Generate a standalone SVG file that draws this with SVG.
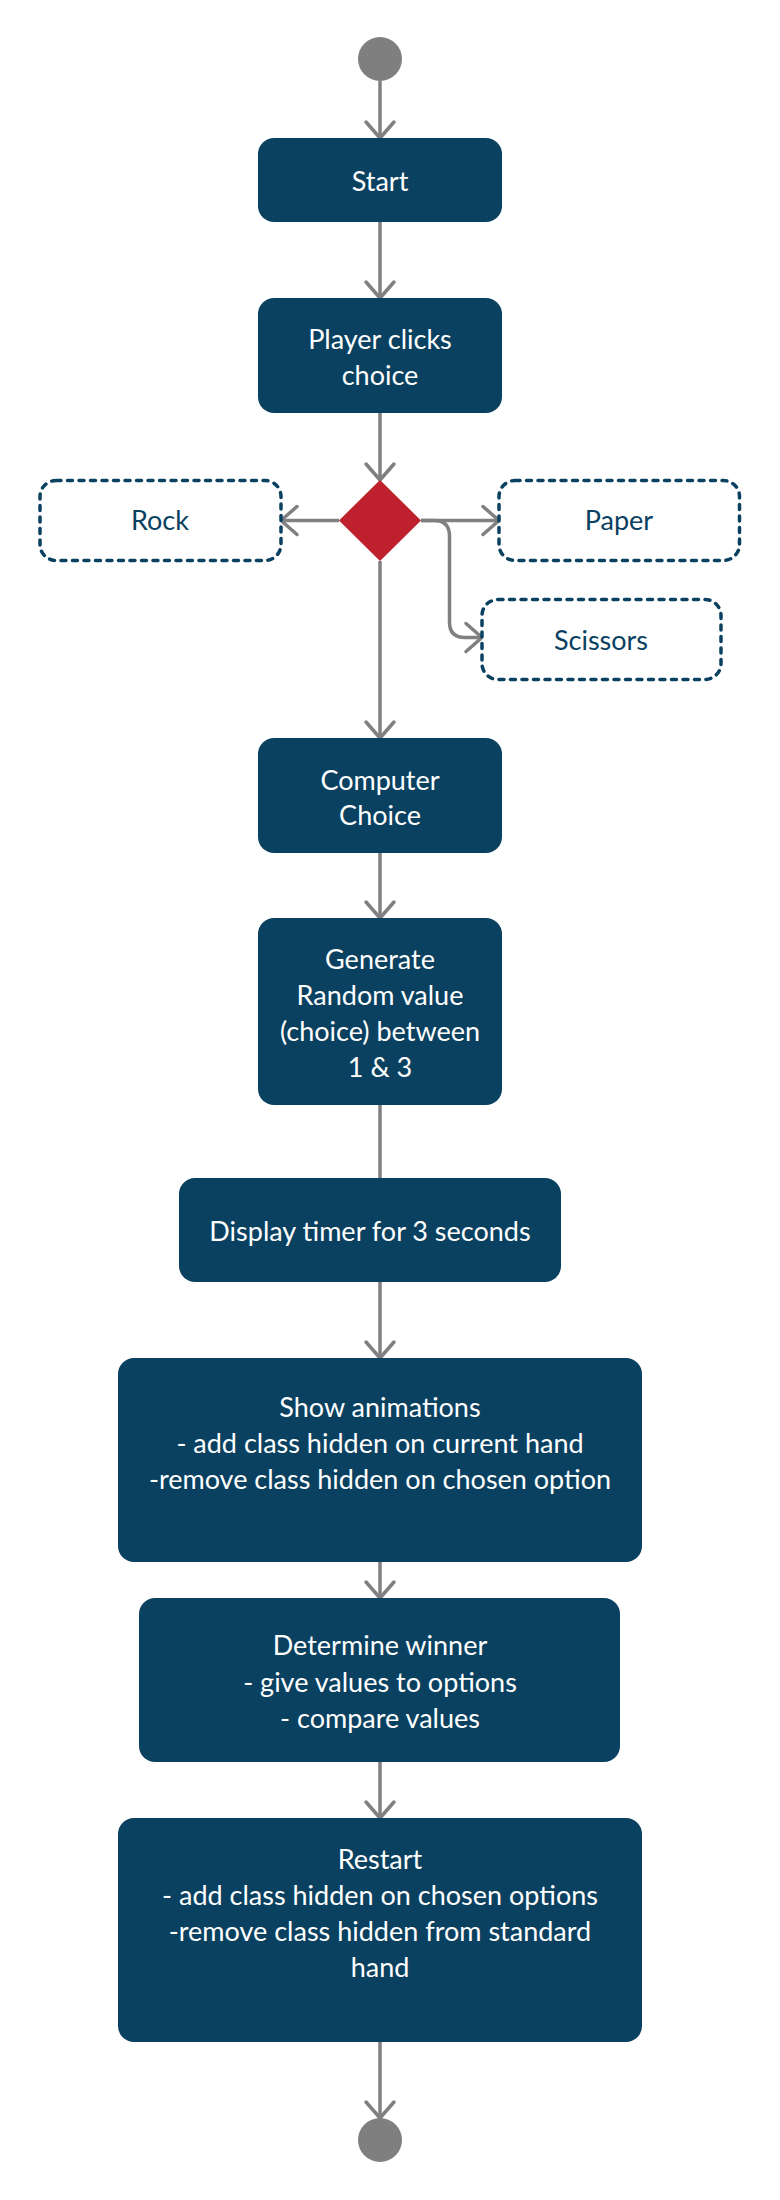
<svg xmlns="http://www.w3.org/2000/svg" width="780" height="2200" viewBox="0 0 780 2200">
<style>
.box{fill:#0a4160;}
.opt{fill:#ffffff;stroke:#0a4160;stroke-width:3.5;stroke-dasharray:5 6.5;stroke-linecap:round;}
.t{font-family:Lato,"Liberation Sans",sans-serif;font-size:27px;fill:#ffffff;text-anchor:middle;dominant-baseline:central;}
.to{font-family:Lato,"Liberation Sans",sans-serif;font-size:27px;fill:#0a4160;text-anchor:middle;dominant-baseline:central;}
.c{stroke:#808080;stroke-width:3.5;fill:none;}
.dot{fill:#7f7f7f;}
</style>
<defs>
<marker id="arr" markerUnits="userSpaceOnUse" markerWidth="40" markerHeight="40" viewBox="-20 -20 40 40" refX="0" refY="0" orient="auto">
<path d="M-16,-14 L0,0 L-16,14" fill="none" stroke="#808080" stroke-width="3.5" stroke-linecap="round" stroke-linejoin="round"/>
</marker>
</defs>
<rect width="780" height="2200" fill="#ffffff"/>
<g transform="translate(-2,0)">
<g id="connectors">
<path class="c" d="M382,81 L382,138" marker-end="url(#arr)"/>
<path class="c" d="M382,222 L382,298" marker-end="url(#arr)"/>
<path class="c" d="M382,413 L382,480" marker-end="url(#arr)"/>
<path class="c" d="M341,520.5 L283,520.5" marker-end="url(#arr)"/>
<path class="c" d="M423,520.5 L501,520.5" marker-end="url(#arr)"/>
<path class="c" d="M423,520.5 L436,520.5 Q451.5,520.5 451.5,536 L451.5,622 Q451.5,637.5 467,637.5 L484,637.5" marker-end="url(#arr)"/>
<path class="c" d="M382,561 L382,738" marker-end="url(#arr)"/>
<path class="c" d="M382,853 L382,918" marker-end="url(#arr)"/>
<path class="c" d="M382,1105 L382,1178"/>
<path class="c" d="M382,1282 L382,1358" marker-end="url(#arr)"/>
<path class="c" d="M382,1562 L382,1598" marker-end="url(#arr)"/>
<path class="c" d="M382,1762 L382,1818" marker-end="url(#arr)"/>
<path class="c" d="M382,2042 L382,2118" marker-end="url(#arr)"/>
</g>
<g id="initial"><circle class="dot" cx="382" cy="59" r="22"/></g>
<g id="start"><rect class="box" x="260" y="138" width="244" height="84" rx="16"/><text class="t" x="382" y="180">Start</text></g>
<g id="player"><rect class="box" x="260" y="298" width="244" height="115" rx="16"/><text class="t" x="382" y="338">Player clicks</text><text class="t" x="382" y="374">choice</text></g>
<g id="decision"><path d="M382,480 L423,520.5 L382,561 L341,520.5 Z" fill="#be202e"/></g>
<g id="rock"><rect class="opt" x="42" y="480.5" width="241" height="80" rx="16"/><text class="to" x="162" y="519">Rock</text></g>
<g id="paper"><rect class="opt" x="501" y="480.5" width="240.5" height="80" rx="16"/><text class="to" x="621" y="519">Paper</text></g>
<g id="scissors"><rect class="opt" x="484" y="599.5" width="239" height="80" rx="16"/><text class="to" x="603" y="639">Scissors</text></g>
<g id="computer"><rect class="box" x="260" y="738" width="244" height="115" rx="16"/><text class="t" x="382" y="779">Computer</text><text class="t" x="382" y="814">Choice</text></g>
<g id="generate"><rect class="box" x="260" y="918" width="244" height="187" rx="16"/><text class="t" x="382" y="958">Generate</text><text class="t" x="382" y="994">Random value</text><text class="t" x="382" y="1030">(choice) between</text><text class="t" x="382" y="1066">1 &amp; 3</text></g>
<g id="display"><rect class="box" x="181" y="1178" width="382" height="104" rx="16"/><text class="t" x="372" y="1230">Display timer for 3 seconds</text></g>
<g id="animations"><rect class="box" x="120" y="1358" width="524" height="204" rx="16"/><text class="t" x="382" y="1406">Show animations</text><text class="t" x="382" y="1442">- add class hidden on current hand</text><text class="t" x="382" y="1478">-remove class hidden on chosen option</text></g>
<g id="winner"><rect class="box" x="141" y="1598" width="481" height="164" rx="16"/><text class="t" x="382" y="1644">Determine winner</text><text class="t" x="382" y="1681">- give values to options</text><text class="t" x="382" y="1717">- compare values</text></g>
<g id="restart"><rect class="box" x="120" y="1818" width="524" height="224" rx="16"/><text class="t" x="382" y="1858">Restart</text><text class="t" x="382" y="1894">- add class hidden on chosen options</text><text class="t" x="382" y="1930">-remove class hidden from standard</text><text class="t" x="382" y="1966">hand</text></g>
<g id="final"><circle class="dot" cx="382" cy="2140" r="22"/></g>
</g>
</svg>
